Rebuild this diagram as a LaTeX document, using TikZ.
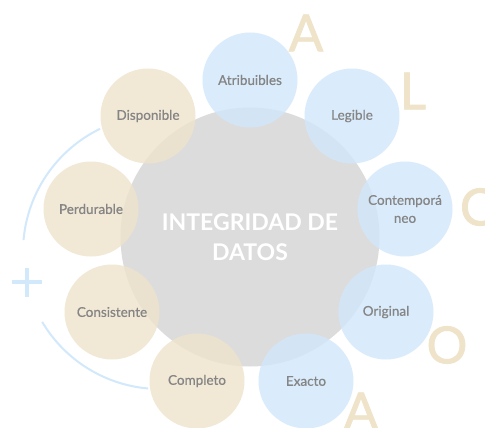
\documentclass[tikz,border=0pt]{standalone}
\usepackage{fontspec}
\setmainfont{Lato}
\newfontfamily\letterfont[FakeBold=1.6]{Lato}
\newfontfamily\labelfont[FakeBold=0.6]{Lato}
\definecolor{cblue}{HTML}{D2E8FB}
\definecolor{cbeige}{HTML}{EEE4CD}
\definecolor{cgrey}{HTML}{DCDCDC}
\definecolor{ctext}{HTML}{858585}
\definecolor{cletter}{HTML}{EFE4C9}
\definecolor{carc}{HTML}{D2E8FB}
\begin{document}
\begin{tikzpicture}[x=1pt,y=-1pt,
  big/.style={circle,fill=cgrey,minimum size=259pt,inner sep=0pt,text=white,font=\bfseries\fontsize{23}{30}\selectfont,align=center},
  sblue/.style={circle,fill=cblue,fill opacity=0.82,text opacity=1,minimum size=95pt,inner sep=0pt,text=ctext,font=\labelfont\fontsize{13.5}{18}\selectfont,align=center},
  sbeige/.style={circle,fill=cbeige,fill opacity=0.82,text opacity=1,minimum size=95pt,inner sep=0pt,text=ctext,font=\labelfont\fontsize{13.5}{18}\selectfont,align=center},
  letter/.style={text=cletter,font=\letterfont\fontsize{51}{51}\selectfont,inner sep=0pt},
  arcline/.style={draw=carc,line width=2pt},
  plusline/.style={draw=carc,line width=4.5pt}]
\useasboundingbox (0,0) rectangle (485,428);
\clip (0,0) rectangle (485,428);
\fill[white] (0,0) rectangle (485,428);
% arc
\draw[arcline] (160,252) ++(-116:137) arc[start angle=-116,end angle=-175,radius=137];
\draw[arcline] (160,252) ++(-210.7:137) arc[start angle=-210.7,end angle=-265,radius=137];
% plus
\draw[plusline] (12,282) -- (42,282);
\draw[plusline] (27,268) -- (27,297);
% big circle
\node[big] (center) at (250,237) {INTEGRIDAD DE\\DATOS};
% small circles
\node[sblue] (atr) at (250,80) {Atribuibles};
\node[sblue] (leg) at (352,116) {Legible};
\node[sblue] (con) at (405,209) {Contemporá\\neo};
\node[sblue] (ori) at (386,312) {Original};
\node[sblue] (exa) at (306,381) {Exacto};
\node[sbeige] (com) at (197,381) {Completo};
\node[sbeige] (cns) at (112,312) {Consistente};
\node[sbeige] (per) at (91,209) {Perdurable};
\node[sbeige] (dis) at (148,116) {Disponible};
% letters
\node[letter] (la1) at (306,33) {A};
\node[letter] (ll) at (413,91) {L};
\node[letter] (lc) at (477,207) {C};
\node[letter] (lo) at (447,345) {O};
\node[letter] (la2) at (361,411) {A};
\end{tikzpicture}
\end{document}
